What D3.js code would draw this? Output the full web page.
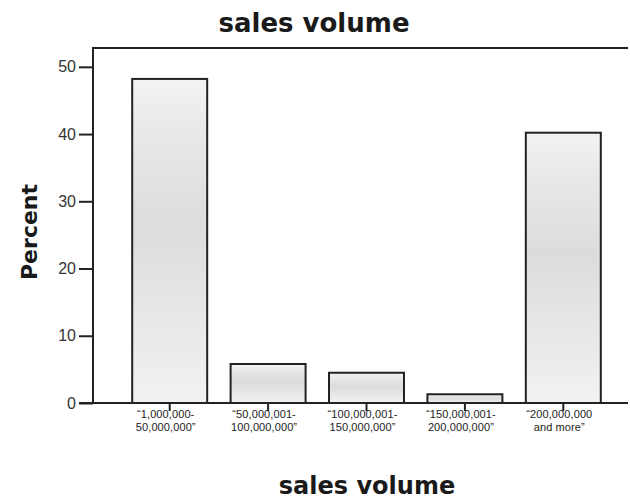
<!DOCTYPE html>
<html>
<head>
<meta charset="utf-8">
<script src="https://cdn.jsdelivr.net/npm/d3@7"></script>
<style>
  html, body { margin: 0; padding: 0; background: #fff; }
  svg { display: block; }
</style>
</head>
<body>
<svg id="chart" width="630" height="500"></svg>
<script>
// Sales volume categories (two-line tick labels) and their percentages
const categories = ["c1", "c2", "c3", "c4", "c5"];
const categoryLabels = [
  ["\u201C1,000,000-", "50,000,000\u201D"],
  ["\u201C50,000,001-", "100,000,000\u201D"],
  ["\u201C100,000,001-", "150,000,000\u201D"],
  ["\u201C150,000,001-", "200,000,000\u201D"],
  ["\u201C200,000,000", "and more\u201D"]
];
const percentValues = [48.2, 5.8, 4.5, 1.3, 40.2];
const yTickValues = [0, 10, 20, 30, 40, 50];

const svg = d3.select("#chart");
const frame = { left: 93, right: 628, top: 48, bottom: 403 };
const ink = "#222";

const x = d3.scaleBand()
  .domain(categories)
  .range([120.5, 612.5])
  .paddingInner(0.238)
  .paddingOuter(0.119);

const y = d3.scaleLinear()
  .domain([0, 52.8])
  .range([frame.bottom, frame.top]);

// Soft vertical shading inside each bar
const defs = svg.append("defs");
const grad = defs.append("linearGradient")
  .attr("id", "barShade")
  .attr("x1", 0).attr("y1", 0).attr("x2", 0).attr("y2", 1);
[[0, "#f3f3f3"], [0.15, "#e9e9e9"], [0.45, "#dcdcdc"], [0.7, "#e6e6e6"], [1, "#f2f2f2"]]
  .forEach(([o, c]) => grad.append("stop").attr("offset", o).attr("stop-color", c));

// Bars
svg.append("g")
  .selectAll("rect")
  .data(percentValues)
  .join("rect")
  .attr("x", (d, i) => x(categories[i]))
  .attr("y", d => y(d))
  .attr("width", x.bandwidth())
  .attr("height", d => y(0) - y(d))
  .attr("fill", "url(#barShade)")
  .attr("stroke", ink)
  .attr("stroke-width", 2);

// Frame top border
svg.append("line")
  .attr("x1", frame.left).attr("x2", frame.right)
  .attr("y1", frame.top).attr("y2", frame.top)
  .attr("stroke", ink).attr("stroke-width", 2);

// Y axis
const yAxis = d3.axisLeft(y)
  .tickValues(yTickValues)
  .tickSize(14)
  .tickPadding(3)
  .tickFormat(d3.format("d"));

const gy = svg.append("g")
  .attr("transform", `translate(${frame.left},0)`)
  .call(yAxis);
gy.select(".domain").remove();
gy.append("line")
  .attr("x1", 0).attr("x2", 0)
  .attr("y1", frame.top - 1).attr("y2", frame.bottom + 1)
  .attr("stroke", ink).attr("stroke-width", 2);
gy.selectAll(".tick line").attr("stroke", ink).attr("stroke-width", 2);
gy.selectAll(".tick text")
  .attr("fill", "#333")
  .style("font-family", "'Liberation Sans', Arial, sans-serif")
  .style("font-size", "16px");

// X axis
const xAxis = d3.axisBottom(x).tickSize(8).tickFormat("");
const gx = svg.append("g")
  .attr("transform", `translate(0,${frame.bottom})`)
  .call(xAxis);
gx.select(".domain").remove();
gx.append("line")
  .attr("x1", frame.left - 14).attr("x2", frame.right)
  .attr("y1", 0).attr("y2", 0)
  .attr("stroke", ink).attr("stroke-width", 2);
gx.selectAll(".tick line").attr("stroke", ink).attr("stroke-width", 2);

// Two-line category labels
gx.selectAll(".tick").each(function(d, i) {
  const t = d3.select(this).append("text")
    .attr("fill", "#222")
    .attr("text-anchor", "middle")
    .style("font-family", "'Liberation Sans', Arial, sans-serif")
    .style("font-size", "11px")
    .style("letter-spacing", "0.1px");
  categoryLabels[i].forEach((line, k) => {
    t.append("tspan")
      .attr("x", -4)
      .attr("y", 15 + k * 13)
      .text(line);
  });
});

// Titles
const boldFont = "'DejaVu Sans', 'Liberation Sans', Arial, sans-serif";
svg.append("text")
  .attr("x", 314).attr("y", 32)
  .attr("text-anchor", "middle")
  .style("font-family", boldFont)
  .style("font-weight", "bold")
  .style("font-size", "26px")
  .attr("fill", "#1a1a1a")
  .text("sales volume");

svg.append("text")
  .attr("x", 367).attr("y", 494)
  .attr("text-anchor", "middle")
  .style("font-family", boldFont)
  .style("font-weight", "bold")
  .style("font-size", "24px")
  .attr("fill", "#1a1a1a")
  .text("sales volume");

svg.append("text")
  .attr("transform", "translate(37,232) rotate(-90)")
  .attr("text-anchor", "middle")
  .style("font-family", boldFont)
  .style("font-weight", "bold")
  .style("font-size", "22px")
  .attr("fill", "#1a1a1a")
  .text("Percent");
</script>
</body>
</html>
